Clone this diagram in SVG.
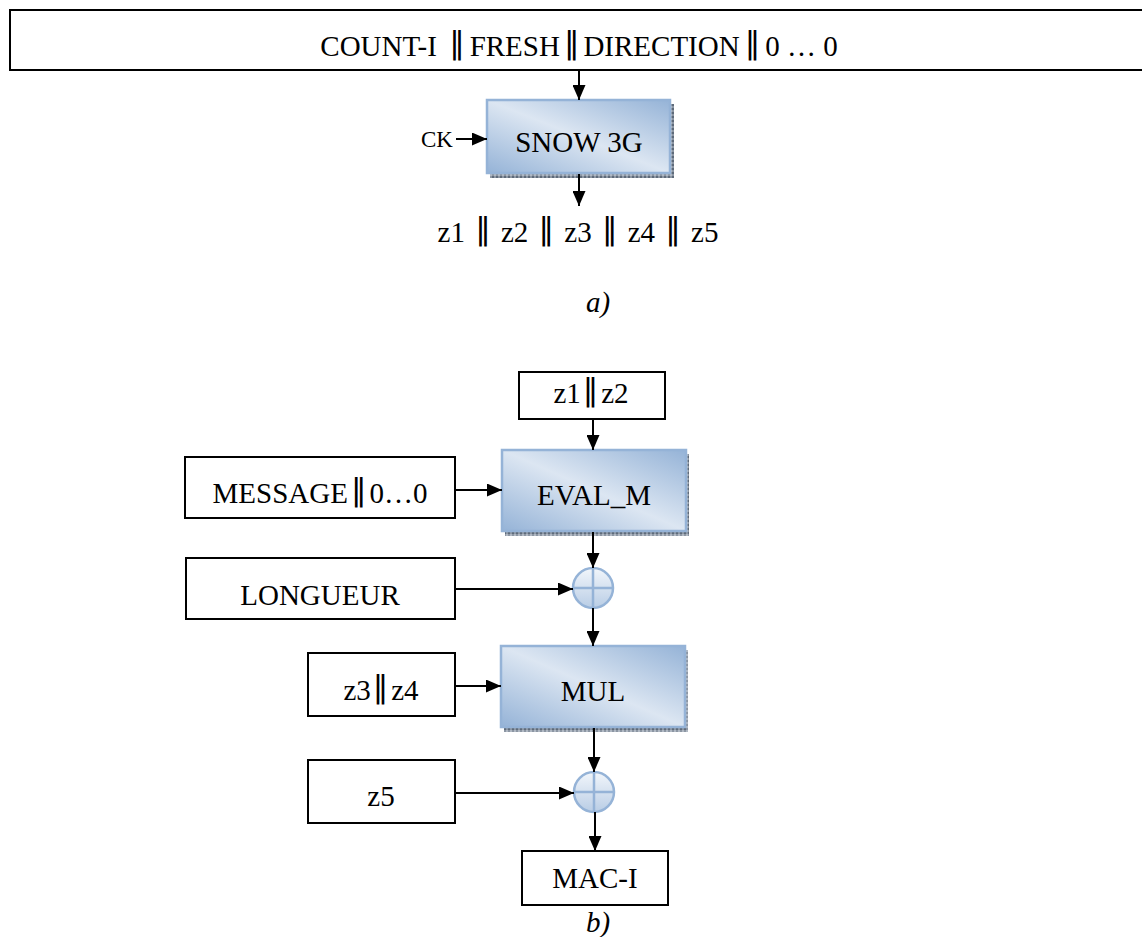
<svg xmlns="http://www.w3.org/2000/svg" width="1142" height="937" viewBox="0 0 1142 937">
<style>
  .box { fill: #ffffff; stroke: #000000; stroke-width: 2; }
  .blk { stroke: #95b3d7; stroke-width: 2.5; fill: url(#blueGrad); }
  .shadow { fill: url(#shadowPat); }
  .txt { font-family: "Liberation Serif", "Times New Roman", serif; font-size: 29px; fill: #000; text-anchor: middle; }
  .small { font-size: 23px; text-anchor: start; }
  .ital { font-style: italic; }
  .bar { font-family: "DejaVu Sans", sans-serif; font-size: 31px; }
  .line { stroke: #000; stroke-width: 2; fill: none; marker-end: url(#arrow); }
  .xor { fill: url(#circGrad); stroke: #95b3d7; stroke-width: 2.5; }
  .cross { stroke: #95b3d7; stroke-width: 2.5; }
</style>
<defs>
  <linearGradient id="blueGrad" x1="1" y1="0" x2="0" y2="1">
    <stop offset="0" stop-color="#95b3d7"/>
    <stop offset="0.5" stop-color="#dce6f2"/>
    <stop offset="1" stop-color="#95b3d7"/>
  </linearGradient>
  <linearGradient id="circGrad" x1="0" y1="0" x2="0" y2="1">
    <stop offset="0" stop-color="#f2f6fb"/>
    <stop offset="1" stop-color="#b9cde5"/>
  </linearGradient>
  <pattern id="shadowPat" width="4" height="4" patternUnits="userSpaceOnUse">
    <rect width="4" height="4" fill="#8c96a3"/>
    <rect width="2" height="2" fill="#5f6b7a"/>
    <rect x="2" y="2" width="2" height="2" fill="#b0b8c3"/>
  </pattern>
  <marker id="arrow" viewBox="0 0 15 13" refX="15" refY="6.5" markerWidth="15" markerHeight="13" markerUnits="userSpaceOnUse" orient="auto">
    <path d="M0,0 L15,6.5 L0,13 z" fill="#000"/>
  </marker>
</defs>

<g id="input">
  <rect class="box" x="10" y="10" width="1140" height="60"/>
  <text class="txt" x="579" y="56">COUNT-I <tspan class="bar" dx="5" dy="-3">‖</tspan><tspan dx="5" dy="3">FRESH</tspan><tspan class="bar" dx="4" dy="-3">‖</tspan><tspan dx="4" dy="3">DIRECTION</tspan><tspan class="bar" dx="5" dy="-3">‖</tspan><tspan dx="5" dy="3">0 … 0</tspan></text>
</g>

<g id="snow3g">
  <rect class="shadow" x="490" y="104" width="184" height="74"/>
  <rect class="blk" x="487" y="100" width="183" height="73"/>
  <text class="txt" x="579" y="152">SNOW 3G</text>
</g>

<g id="ck">
  <text class="txt small" x="421" y="147">CK</text>
</g>

<g id="keystream">
  <text class="txt" x="578" y="242">z1 <tspan class="bar" dx="3" dy="-3">‖</tspan><tspan dx="3" dy="3"> z2 </tspan><tspan class="bar" dx="3" dy="-3">‖</tspan><tspan dx="3" dy="3"> z3 </tspan><tspan class="bar" dx="3" dy="-3">‖</tspan><tspan dx="3" dy="3"> z4 </tspan><tspan class="bar" dx="3" dy="-3">‖</tspan><tspan dx="3" dy="3"> z5</tspan></text>
</g>

<g id="label-a">
  <text class="txt ital" x="598" y="312">a)</text>
</g>

<g id="z1z2">
  <rect class="box" x="519" y="372" width="146" height="47"/>
  <text class="txt" x="591" y="403">z1<tspan class="bar" dx="2" dy="-3">‖</tspan><tspan dx="3" dy="3">z2</tspan></text>
</g>

<g id="evalm">
  <rect class="shadow" x="505" y="454" width="184" height="82"/>
  <rect class="blk" x="502" y="450" width="184" height="81"/>
  <text class="txt" x="594" y="505">EVAL_M</text>
</g>

<g id="message">
  <rect class="box" x="185" y="457" width="270" height="61"/>
  <text class="txt" x="320" y="503">MESSAGE<tspan class="bar" dx="3" dy="-3">‖</tspan><tspan dx="3" dy="3">0…0</tspan></text>
</g>

<g id="xor1">
  <circle class="xor" cx="593" cy="588" r="20"/>
  <line class="cross" x1="573" y1="588" x2="613" y2="588"/>
  <line class="cross" x1="593" y1="568" x2="593" y2="608"/>
</g>

<g id="longueur">
  <rect class="box" x="186" y="558" width="269" height="61"/>
  <text class="txt" x="320" y="605">LONGUEUR</text>
</g>

<g id="mul">
  <rect class="shadow" x="504" y="650" width="184" height="82"/>
  <rect class="blk" x="501" y="646" width="184" height="81"/>
  <text class="txt" x="593" y="701">MUL</text>
</g>

<g id="z3z4">
  <rect class="box" x="308" y="653" width="147" height="63"/>
  <text class="txt" x="381" y="700">z3<tspan class="bar" dx="2" dy="-3">‖</tspan><tspan dx="3" dy="3">z4</tspan></text>
</g>

<g id="xor2">
  <circle class="xor" cx="594" cy="792" r="20"/>
  <line class="cross" x1="574" y1="792" x2="614" y2="792"/>
  <line class="cross" x1="594" y1="772" x2="594" y2="812"/>
</g>

<g id="z5">
  <rect class="box" x="308" y="760" width="147" height="63"/>
  <text class="txt" x="381" y="806">z5</text>
</g>

<g id="maci">
  <rect class="box" x="522" y="851" width="146" height="54"/>
  <text class="txt" x="595" y="888">MAC-I</text>
</g>

<g id="label-b">
  <text class="txt ital" x="598" y="932">b)</text>
</g>

<g id="connectors">
  <line class="line" x1="579" y1="70" x2="579" y2="100"/>
  <line class="line" x1="456" y1="139" x2="487" y2="139"/>
  <line class="line" x1="579" y1="174" x2="579" y2="206"/>
  <line class="line" x1="593" y1="419" x2="593" y2="450"/>
  <line class="line" x1="455" y1="490" x2="502" y2="490"/>
  <line class="line" x1="593" y1="532" x2="593" y2="568"/>
  <line class="line" x1="455" y1="589" x2="573" y2="589"/>
  <line class="line" x1="593" y1="608" x2="593" y2="646"/>
  <line class="line" x1="455" y1="686" x2="501" y2="686"/>
  <line class="line" x1="594" y1="728" x2="594" y2="772"/>
  <line class="line" x1="455" y1="793" x2="574" y2="793"/>
  <line class="line" x1="595" y1="812" x2="595" y2="851"/>
</g>
</svg>
